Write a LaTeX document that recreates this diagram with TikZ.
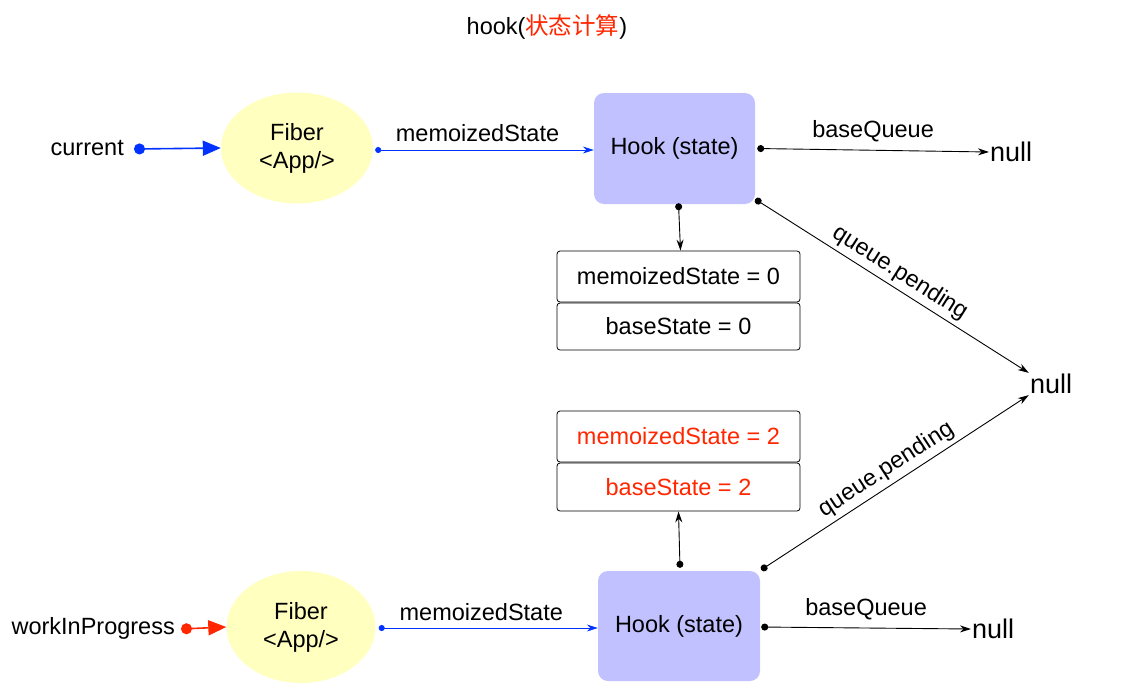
\documentclass[tikz,border=0pt]{standalone}
\usepackage{fontspec}
\setmainfont{Liberation Sans}
\newfontfamily\cjk{Noto Sans CJK SC}
\usetikzlibrary{arrows.meta,calc,shapes.geometric}
\definecolor{myred}{RGB}{255,38,0}
\definecolor{myblue}{RGB}{0,51,255}
\definecolor{fiberfill}{RGB}{255,255,192}
\definecolor{hookfill}{RGB}{193,193,255}
\tikzset{
  txt/.style={inner sep=0pt,font=\fontsize{23.5}{26}\selectfont},
  nulltxt/.style={inner sep=1pt,font=\fontsize{27}{30}\selectfont},
  fiber/.style={ellipse,fill=fiberfill,minimum width=152pt,minimum height=111pt,inner sep=0pt,align=center,font=\fontsize{23.5}{28}\selectfont},
  hookbox/.style={rectangle,rounded corners=10pt,fill=hookfill,minimum width=161pt,minimum height=111pt,inner sep=0pt,font=\fontsize{23.5}{26}\selectfont},
  statebox/.style={rectangle,rounded corners=3pt,draw=black,line width=0.8pt,minimum width=243pt,inner sep=0pt,font=\fontsize{23.5}{26}\selectfont},
  bigarrow/.style={line width=1.6pt,{Circle[length=11pt]}-{Triangle[length=18pt,width=15pt]}},
  blueline/.style={myblue,line width=0.8pt,{Circle[length=6pt]}-{Stealth[length=11pt,width=7pt]}},
  blackline/.style={black,line width=0.9pt,{Circle[length=7pt]}-{Stealth[length=11pt,width=7pt]}},
}
\begin{document}
\begin{tikzpicture}[x=1pt,y=-1pt]
\useasboundingbox (0,0) rectangle (1129,689);

% title
\node[txt] (title) at (547,27) {hook(\textcolor{myred}{\cjk 状态计算})};

% top row
\node[txt,anchor=east] (cur) at (124,148) {current};
\node[fiber] (fib1) at (297,148) {Fiber\\\textless App/\textgreater};
\node[hookbox] (hook1) at (674.5,148.5) {Hook (state)};
\node[nulltxt,anchor=west] (null1) at (989,152) {null};
\node[nulltxt] (null2) at (1051,384) {null};

\node[statebox,minimum height=51pt] (ms0) at (678.5,276.5) {memoizedState = 0};
\node[statebox,minimum height=47pt] (bs0) at (678.5,326.5) {baseState = 0};

\node[statebox,minimum height=51pt,text=myred] (ms2) at (678.5,436.5) {memoizedState = 2};
\node[statebox,minimum height=48pt,text=myred] (bs2) at (678.5,487) {baseState = 2};

% bottom row
\node[txt,anchor=east] (wip) at (175,628) {workInProgress};
\node[fiber,minimum width=149pt,minimum height=112pt] (fib2) at (301,627) {Fiber\\\textless App/\textgreater};
\node[hookbox,minimum width=162pt,minimum height=110pt] (hook2) at (679,626) {Hook (state)};
\node[nulltxt,anchor=west] (null3) at (971,629) {null};

% connectors top
\draw[bigarrow,myblue] ($(cur.east)+(10,1)$) -- (fib1.west);
\draw[blueline] ($(fib1.east)+(2,2)$) -- (hook1.west |- 0,150)
  node[txt,midway,above=8pt,xshift=-7pt,text=black] (lab1) {memoizedState};
\draw[blackline] ($(hook1.east)+(2,0)$) -- (null1.west)
  node[txt,midway,above=8pt] (lab2) {baseQueue};
\draw[blackline] ($(hook1.south)+(4,-1)$) -- ($(ms0.north)+(2,0)$);
\draw[blackline] ($(hook1.south east)+(0,-5)$) -- (null2.north west)
  node[txt,midway,above=4pt,sloped] (lab3) {queue.pending};

% connectors bottom
\draw[bigarrow,myred] ($(wip.east)+(6,1)$) -- (fib2.west);
\draw[blueline] ($(fib2.east)+(3,1)$) -- (hook2.west |- 0,628)
  node[txt,midway,above=7pt,xshift=-7pt,text=black] (lab4) {memoizedState};
\draw[blackline] ($(hook2.east)+(1,1)$) -- (null3.west)
  node[txt,midway,above=8pt] (lab5) {baseQueue};
\draw[blackline] ($(hook2.north)+(1,-3)$) -- (bs2.south);
\draw[blackline] ($(hook2.north east)+(1,-1)$) -- (null2.south west)
  node[txt,midway,above=4pt,sloped] (lab6) {queue.pending};
\end{tikzpicture}
\end{document}
